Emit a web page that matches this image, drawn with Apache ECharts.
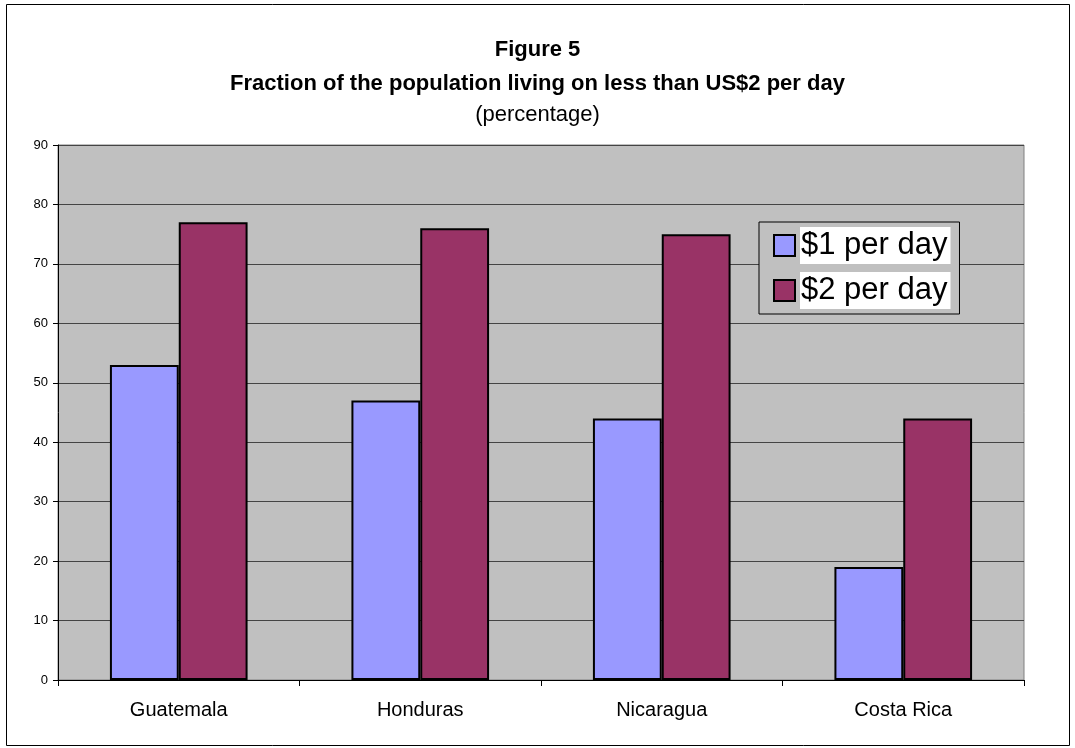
<!DOCTYPE html>
<html>
<head>
<meta charset="utf-8">
<script src="https://cdn.jsdelivr.net/npm/echarts@6/dist/echarts.min.js"></script>
<style>html,body{margin:0;padding:0;background:#fff}#c{width:1075px;height:748px}</style>
</head>
<body>
<div id="c"></div>
<script>
const categories = ['Guatemala', 'Honduras', 'Nicaragua', 'Costa Rica'];
const series1Name = '$1 per day';
const series2Name = '$2 per day';
const series1 = [53, 47, 44, 19];
const series2 = [77, 76, 75, 44];
const yTicks = [0, 10, 20, 30, 40, 50, 60, 70, 80, 90];

const chart = echarts.init(document.getElementById('c'), null, {renderer: 'canvas'});
const font = 'Arial, "Liberation Sans", sans-serif';
chart.setOption({
  animation: false,
  backgroundColor: '#fff',
  title: [
    {text: 'Figure 5', left: 'center', top: 34, textStyle: {fontFamily: font, fontSize: 22, lineHeight: 22, fontWeight: 'bold', color: '#000'}},
    {text: 'Fraction of the population living on less than US$2 per day', left: 'center', top: 68, textStyle: {fontFamily: font, fontSize: 22, lineHeight: 22, fontWeight: 'bold', color: '#000'}},
    {text: '(percentage)', left: 'center', top: 99, textStyle: {fontFamily: font, fontSize: 22, lineHeight: 22, fontWeight: 'normal', color: '#000'}}
  ],
  graphic: [{
    type: 'rect', shape: {x: 6.5, y: 4.5, width: 1063, height: 741},
    style: {fill: 'none', stroke: '#000', lineWidth: 1}, silent: true, z: 100
  }],
  legend: {
    orient: 'vertical', left: 759, top: 222,
    backgroundColor: '#c0c0c0', borderColor: '#000', borderWidth: 1,
    padding: [5, 9, 5, 14], itemGap: 8, itemWidth: 21, itemHeight: 21,
    icon: 'rect',
    itemStyle: {borderColor: '#000', borderWidth: 2},
    textStyle: {fontFamily: font, fontSize: 31, color: '#000', backgroundColor: '#fff', lineHeight: 37, padding: [0, 3, 0, 1]},
    data: [series1Name, series2Name]
  },
  grid: {left: 58, top: 145, width: 966, height: 535, show: true, backgroundColor: '#c0c0c0', borderColor: '#808080', borderWidth: 1, containLabel: false},
  xAxis: {
    type: 'category', data: categories,
    axisLine: {lineStyle: {color: '#000', width: 1}},
    axisTick: {show: true, alignWithLabel: false, length: 6, lineStyle: {color: '#000'}},
    axisLabel: {fontFamily: font, fontSize: 20, color: '#000', margin: 20}
  },
  yAxis: {
    type: 'value', min: 0, max: 90, interval: 10,
    axisLine: {show: true, lineStyle: {color: '#000', width: 1}},
    axisTick: {show: true, length: 5, lineStyle: {color: '#000'}},
    axisLabel: {fontFamily: font, fontSize: 13, color: '#000', margin: 10},
    splitLine: {show: true, lineStyle: {color: '#444', width: 1}}
  },
  series: [
    {name: series1Name, type: 'bar', data: series1, barGap: '0%', barCategoryGap: '43%',
     itemStyle: {color: '#9999ff', borderColor: '#000', borderWidth: 2}},
    {name: series2Name, type: 'bar', data: series2, barGap: '0%', barCategoryGap: '43%',
     itemStyle: {color: '#993366', borderColor: '#000', borderWidth: 2}}
  ]
});
</script>
</body>
</html>
